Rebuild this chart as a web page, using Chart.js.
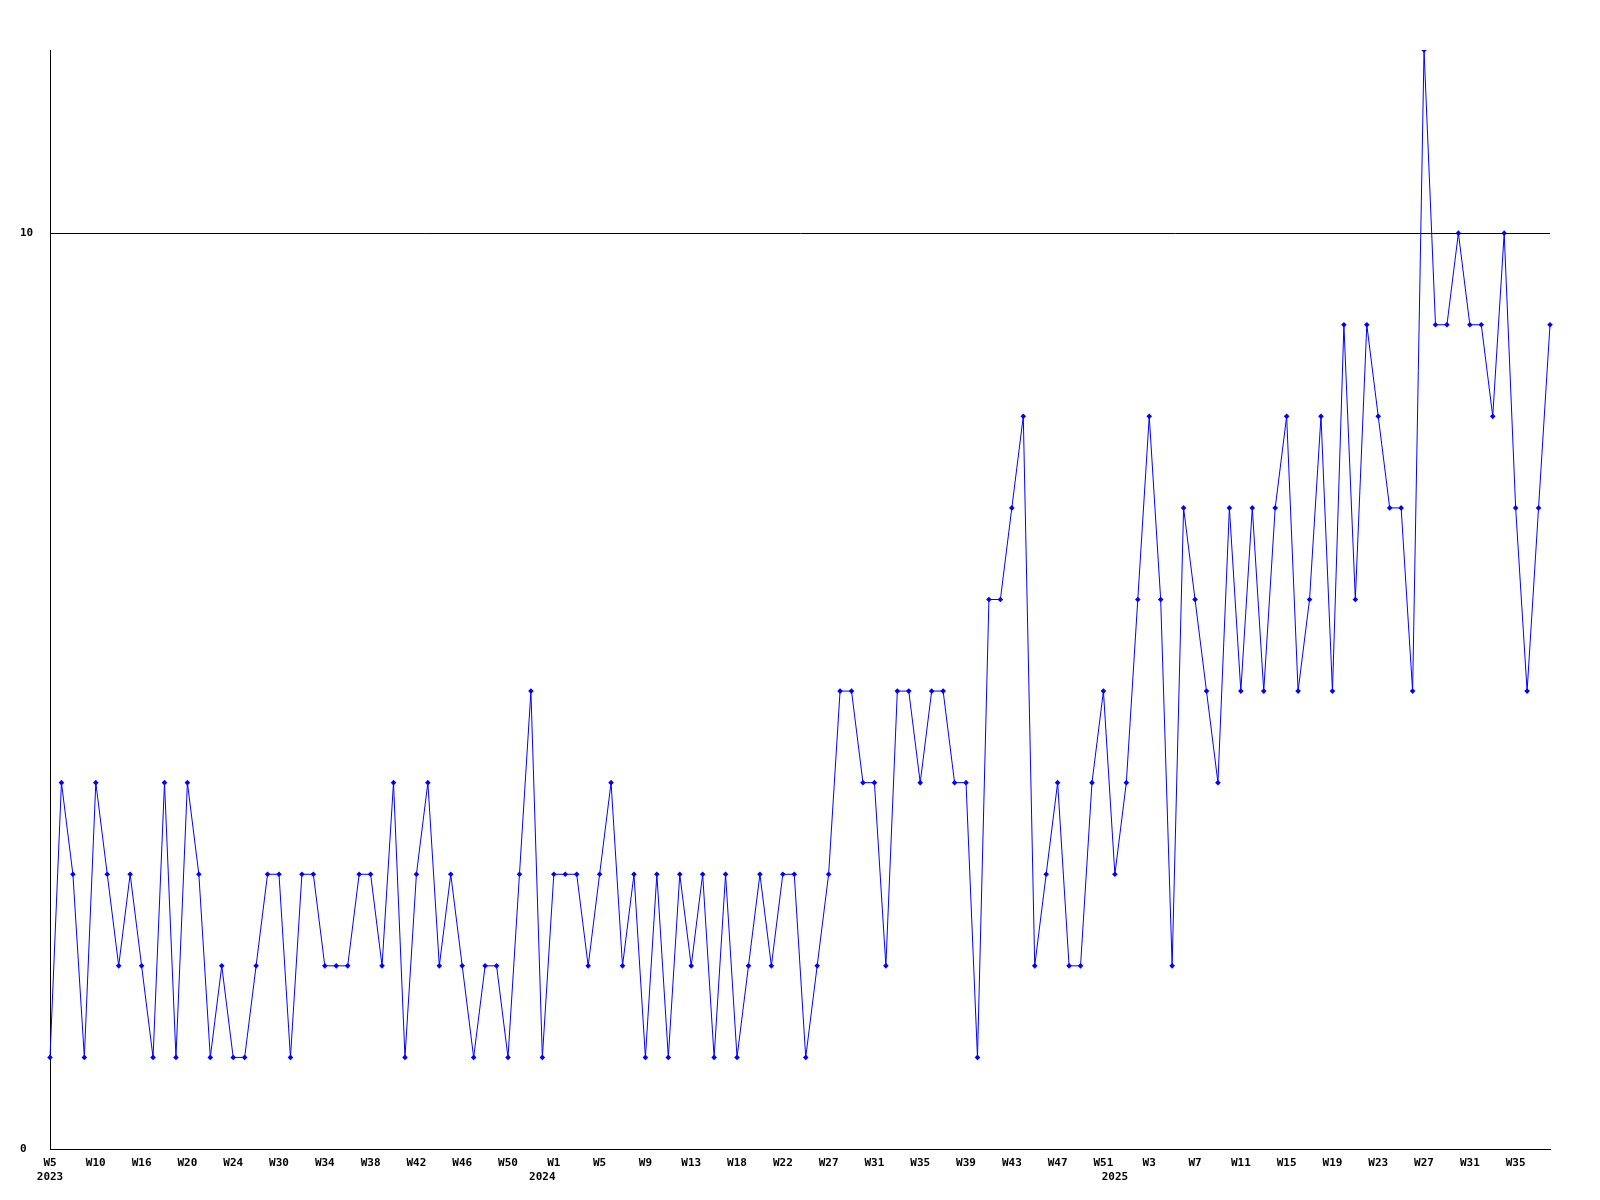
<!DOCTYPE html>
<html>
<head>
<meta charset="utf-8">
<script src="https://cdn.jsdelivr.net/npm/chart.js@4/dist/chart.umd.min.js"></script>
<style>
  html, body { margin: 0; padding: 0; background: #fff; }
</style>
</head>
<body>
<canvas id="chart" width="1600" height="1200"></canvas>
<script>

// weekly counts, one per point (W5 2023 .. W38 2025)
const counts = [
  1,4,3,1,4,3,2,3,2,1,4,1,4,3,1,2,1,1,2,3,3,1,3,3,2,
  2,2,3,3,2,4,1,3,4,2,3,2,1,2,2,1,3,5,1,3,3,3,2,3,4,
  2,3,1,3,1,3,2,3,1,3,1,2,3,2,3,3,1,2,3,5,5,4,4,2,
  5,5,4,5,5,4,4,1,6,6,7,8,2,3,4,2,2,4,5,3,4,6,8,6,
  2,7,6,5,4,7,5,7,5,7,8,5,6,8,5,9,6,9,8,7,7,5,
  12,9,9,10,9,9,8,10,7,5,7,9
];

// x tick labels, one every 4th point
const weekTicks = ['W5','W10','W16','W20','W24','W30','W34','W38','W42','W46','W50',
  'W1','W5','W9','W13','W18','W22','W27','W31','W35','W39','W43','W47','W51',
  'W3','W7','W11','W15','W19','W23','W27','W31','W35'];
const tickEvery = 4;

// year labels under the axis and the point they sit under
const yearNames = ['2023', '2024', '2025'];
const yearAt = [0, 43, 93];

const yTicks = [0, 10];
const yMax = 12;

const pointLabels = counts.map((c, i) => (i % tickEvery == 0 ? weekTicks[i / tickEvery] : ''));

Chart.defaults.font.family = '"DejaVu Sans Mono", "Liberation Mono", monospace';
Chart.defaults.font.size = 11;
Chart.defaults.font.weight = 'bold';
Chart.defaults.color = '#000';

const data = {
  labels: pointLabels,
  datasets: [
    {
      data: counts,
      borderColor: '#0000ff',
      backgroundColor: '#0000ff',
      borderWidth: 1,
      tension: 0,
      pointStyle: 'rectRot',
      pointRadius: 2.8,
      pointBorderWidth: 0,
      fill: false,
    },
  ]
};

const config = {
  type: 'line',
  data: data,
  options: {
    responsive: false,
    animation: false,
    layout: { padding: { left: 20, right: 50, top: 50, bottom: 0 } },
    plugins: {
      legend: { display: false },
      tooltip: { enabled: false },
    },
    scales: {
      x: {
        type: 'category',
        offset: false,
        grid: { display: false, drawTicks: false },
        border: { color: '#000', width: 1 },
        ticks: {
          autoSkip: false,
          maxRotation: 0,
          minRotation: 0,
          padding: 8,
          callback: function (v, i) {
            const week = i % tickEvery == 0 ? weekTicks[i / tickEvery] : '';
            const y = yearAt.indexOf(i);
            if (y >= 0) return [week, yearNames[y]];
            return week;
          }
        },
        afterFit: function (scale) { scale.height = 51; }
      },
      y: {
        min: 0,
        max: yMax,
        afterBuildTicks: function (scale) {
          scale.ticks = yTicks.map(v => ({ value: v }));
        },
        grid: { color: '#000', drawTicks: false, lineWidth: 1 },
        border: { color: '#000', width: 1 },
        ticks: { crossAlign: 'far', padding: 0 },
        afterFit: function (scale) { scale.width = 30; }
      }
    }
  }
};

const chart = new Chart(document.getElementById('chart'), config);

</script>
</body>
</html>
